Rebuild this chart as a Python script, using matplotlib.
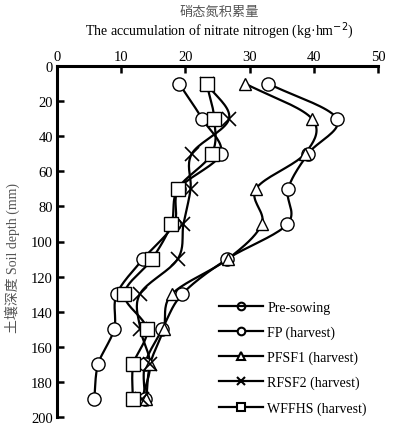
import numpy as np
import matplotlib
matplotlib.use("Agg")
import matplotlib.pyplot as plt
from matplotlib.lines import Line2D

depth = [10, 30, 50, 70, 90, 110, 130, 150, 170, 190]
pre_sowing = [19.0, 22.6, 25.5, 19.0, 18.2, 13.4, 9.3, 8.9, 6.4, 5.8]
fp = [32.9, 43.6, 39.1, 36.0, 35.9, 26.5, 19.5, 16.4, 13.7, 13.7]
pfsf1 = [29.3, 39.7, 38.6, 31.0, 31.9, 26.6, 17.9, 16.6, 14.5, 13.9]
rfsf2 = [23.3, 26.8, 21.0, 20.8, 19.7, 18.8, 12.9, 13.0, 14.5, 13.2]
wffhs = [23.3, 24.5, 24.1, 18.8, 17.8, 14.8, 10.5, 14.0, 11.9, 11.8]

series = [
    ("Pre-sowing", pre_sowing, "o"),
    ("FP (harvest)", fp, "o"),
    ("PFSF1 (harvest)", pfsf1, "^"),
    ("RFSF2 (harvest)", rfsf2, "x"),
    ("WFFHS (harvest)", wffhs, "s"),
]
xticks = [0, 10, 20, 30, 40, 50]
yticks = [0, 20, 40, 60, 80, 100, 120, 140, 160, 180, 200]

plt.rcParams['font.family'] = ['Liberation Serif', 'Noto Sans CJK SC']


def catmull(xs, ys, n=20):
    P = np.column_stack([xs, ys]).astype(float)
    P = np.vstack([2 * P[0] - P[1], P, 2 * P[-1] - P[-2]])
    out = []
    t = np.linspace(0, 1, n, endpoint=False)
    for i in range(1, len(P) - 2):
        p0, p1, p2, p3 = P[i - 1], P[i], P[i + 1], P[i + 2]
        tt = t[:, None]
        seg = 0.5 * ((2 * p1) + (-p0 + p2) * tt + (2 * p0 - 5 * p1 + 4 * p2 - p3) * tt ** 2
                     + (-p0 + 3 * p1 - 3 * p2 + p3) * tt ** 3)
        out.append(seg)
    out.append(P[-2][None, :])
    out = np.vstack(out)
    return out[:, 0], out[:, 1]


fig = plt.figure(figsize=(3.93, 4.31), dpi=100)
ax = fig.add_axes([57 / 393, 1 - 418 / 431, (378 - 57) / 393, (418 - 67) / 431])

for name, vals, m in series:
    sx, sy = catmull(vals, depth)
    ax.plot(sx, sy, color='black', lw=1.6, zorder=2)
    if m == 'x':
        ax.plot(vals, depth, ls='none', marker='x', ms=10, mew=1.2, color='black', zorder=3)
    else:
        ms = 9.5 if m != '^' else 9
        ax.plot(vals, depth, ls='none', marker=m, ms=ms, mfc='white', mec='black', mew=1.0, zorder=3)

ax.set_xlim(0, 50)
ax.set_ylim(200, 0)
ax.xaxis.tick_top()
ax.xaxis.set_label_position('top')
ax.set_xticks(xticks)
ax.set_yticks(yticks)
ax.tick_params(direction='in', length=5, width=1.8, labelsize=10.5, pad=3)
ax.tick_params(axis='x', pad=2)
for s in ['right', 'bottom']:
    ax.spines[s].set_visible(False)
for s in ['left', 'top']:
    ax.spines[s].set_linewidth(2.2)

fig.text((88 + 350) / 2 / 393, 1 - 12 / 431, "硝态氮积累量", ha='center', va='center',
         fontsize=9.5, color='#555555', family=['Noto Sans CJK SC'])
fig.text((88 + 350) / 2 / 393, 1 - 31 / 431, "The accumulation of nitrate nitrogen (kg·hm$^{-2}$)",
         ha='center', va='center', fontsize=10)
fig.text(12 / 393, 1 - 258 / 431, "土壤深度 Soil depth (mm)", rotation=90, ha='center', va='center',
         fontsize=10, color='#555555', family=['Liberation Serif', 'Noto Sans CJK SC'])

handles = []
for name, vals, m in series:
    if m == 'x':
        h = Line2D([], [], color='black', lw=1.6, marker='x', ms=6, mew=1.5)
    elif name == 'Pre-sowing':
        h = Line2D([], [], color='black', lw=1.6, marker='o', ms=5.5, mfc='none', mec='black', mew=1.5)
    else:
        h = Line2D([], [], color='black', lw=1.6, marker=m, ms=5.5, mfc='white', mec='black', mew=1.5)
    handles.append(h)
ax.legend(handles, [s[0] for s in series], loc='upper left', bbox_to_anchor=((213 - 57) / 321, (418 - 296) / 351),
          frameon=False, fontsize=10, handlelength=3.2, handletextpad=0.3, labelspacing=0.85, borderaxespad=0)

fig.savefig("out.png", dpi=100)
